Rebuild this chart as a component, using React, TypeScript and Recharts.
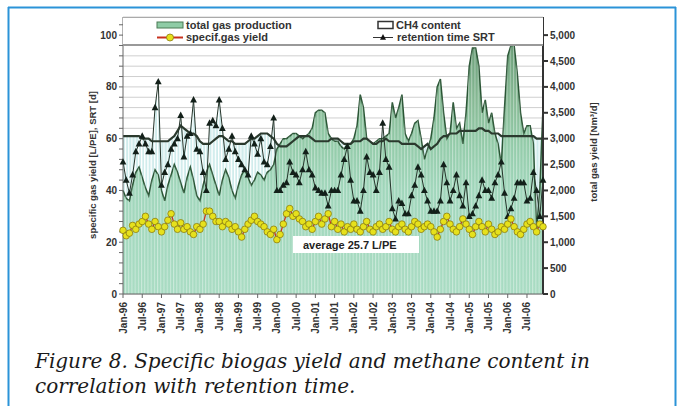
import React from "react";
import {
  ComposedChart,
  Area,
  Line,
  XAxis,
  YAxis,
  CartesianGrid,
} from "recharts";

// monthly values Jan-96 .. Dec-06
const years = ["96", "97", "98", "99", "00", "01", "02", "03", "04", "05", "06"];
const monthNames = ["Jan", "Feb", "Mar", "Apr", "May", "Jun", "Jul", "Aug", "Sep", "Oct", "Nov", "Dec"];

// total gas production [Nm3/d]
const gasProduction = [
  2000, 1850, 1800, 2100, 2350, 2450, 2250, 2050, 1900, 2200, 2400, 2300,
  2000, 1800, 2100, 2300, 2500, 2350, 2150, 1950, 2250, 2450, 2200, 1900,
  1800, 2100, 2350, 2500, 2300, 2100, 1900, 2200, 2400, 2250, 2000, 1850,
  2100, 2300, 2400, 2250, 2100, 2200, 2350, 2300, 2200, 2350, 2400, 2500,
  2800, 2900, 3000, 3000, 3050, 3100, 3100, 3050, 3000, 3050, 3100, 3200,
  3500, 3550, 3550, 3500, 3100, 3000, 2950, 2950, 2850, 2800, 2900, 2900,
  3000, 3250, 3850, 3600, 3000, 2950, 2900, 2950, 3000, 3000, 3050, 3100,
  3700, 3400, 3600, 3850, 3100, 2950, 3100, 3300, 3350, 3000, 2600, 2800,
  3000, 3400, 4000, 4150, 3500, 3000, 3100, 3700, 3200, 3300, 2900, 3500,
  4400, 4750, 4750, 4400, 3500, 3750, 3300, 3500, 3100, 2900, 2500, 3600,
  4600, 4800, 4800, 4250, 3500, 3100, 3250, 3250, 2900, 1250, 2000, 3600,
];

// CH4 content [%]
const ch4Content = [
  61, 61, 61, 61, 61, 61, 60, 60, 60, 59, 59, 59,
  59, 59, 59, 60, 61, 63, 65, 64, 63, 62, 62, 61,
  59, 58, 58, 58, 59, 60, 61, 61, 60, 59, 59, 58,
  58, 58, 58, 59, 60, 60, 61, 62, 62, 62, 61, 60,
  58, 57, 57, 57, 58, 59, 60, 61, 61, 61, 61, 60,
  59, 59, 59, 59, 59, 60, 60, 60, 59, 58, 58, 58,
  59, 59, 59, 60, 60, 59, 58, 58, 59, 59, 60, 59,
  59, 59, 59, 58, 58, 58, 58, 58, 57, 56, 57, 58,
  56, 57, 58, 60, 61, 61, 62, 62, 62, 63, 63, 63,
  63, 63, 63, 64, 64, 63, 63, 62, 62, 62, 61, 61,
  61, 61, 61, 61, 61, 61, 61, 61, 61, 60, 60, 60,
];

// retention time SRT [d]
const retentionTime = [
  51, 44, 39, 46, 55, 58, 61, 58, 55, 55, 72, 82,
  42, 47, 50, 56, 58, 60, 69, 53, 61, 62, 75, 56,
  55, 47, 40, 66, 67, 65, 75, 64, 52, 56, 61, 55,
  52, 50, 48, 46, 61, 58, 54, 60, 51, 50, 57, 68,
  40, 40, 42, 43, 51, 47, 46, 43, 48, 55, 48, 46,
  41, 40, 39, 39, 34, 40, 40, 40, 46, 52, 57, 44,
  36, 36, 32, 40, 53, 47, 46, 40, 47, 66, 52, 49,
  33, 29, 36, 35, 31, 31, 38, 42, 49, 46, 40, 36,
  32, 32, 32, 36, 50, 43, 36, 40, 46, 38, 34, 43,
  30, 31, 34, 38, 44, 40, 40, 37, 43, 46, 51, 39,
  30, 33, 37, 43, 43, 43, 36, 37, 47, 40, 30, 44,
];

// specific gas yield [L/PE]
const specificYield = [
  24.6, 22.5, 23.5, 26.5, 25, 27, 28, 30, 27, 25, 28, 26,
  24, 26, 28.5, 31, 27, 25, 27.5, 25, 26, 24, 23, 26,
  25, 27, 32, 32, 30, 28, 28, 26, 28, 27, 25, 26,
  24, 22, 25, 27, 28.5, 30, 28, 27, 26, 24, 23, 25,
  21, 23, 27, 31, 33, 30, 31, 29, 28, 26, 27, 25,
  28, 30, 27, 29, 31, 26, 28, 25, 27, 24, 26, 25,
  27, 25, 24, 26, 28, 25, 24, 26, 27, 25, 26, 28,
  25, 24, 26, 27, 25, 24, 26, 28, 27, 25, 26, 27,
  26, 24, 22, 25, 28, 30, 27, 25, 24, 26, 29, 27,
  25, 23, 26, 28, 26, 24, 27, 25, 23, 24, 26, 25,
  27, 29, 26, 24, 23, 25, 27, 28, 26, 24, 27, 26,
];

const leftTicks = [0, 4, 8, 12, 16, 20, 24, 28, 32, 36, 40, 44, 48, 52, 56, 60, 64, 68, 72, 76, 80, 84, 88, 92, 96, 100, 104];
const rightTicks = [0, 500, 1000, 1500, 2000, 2500, 3000, 3500, 4000, 4500, 5000];

const months = years.flatMap((y) => monthNames.map((m) => `${m}-${y}`));
const data = months.map((month, i) => ({
  month,
  gas: gasProduction[i],
  ch4: ch4Content[i],
  srt: retentionTime[i],
  yield: specificYield[i],
}));

const font = "'Liberation Sans', Arial, sans-serif";

const XTick = (props: any) => {
  const { x, y, payload } = props;
  return (
    <text
      x={x}
      y={y}
      transform={`rotate(-90, ${x}, ${y})`}
      textAnchor="end"
      dominantBaseline="central"
      fontSize={10}
      fontWeight="bold"
      fontFamily={font}
      fill="#333"
    >
      {payload.value}
    </text>
  );
};

const Triangle = (props: any) => {
  const { cx, cy, index } = props;
  if (cx == null || cy == null) return <g key={index} />;
  return (
    <polygon
      key={index}
      points={`${cx},${cy - 3.8} ${cx - 3.4},${cy + 2.6} ${cx + 3.4},${cy + 2.6}`}
      fill="#13201a"
    />
  );
};

export default function App() {
  return (
    <div style={{ position: "absolute", left: 0, top: 0, width: 682, height: 406, background: "#fff" }}>
      <ComposedChart
        width={682}
        height={350}
        data={data}
        margin={{ top: 17, right: 79, bottom: 10, left: 63 }}
        style={{ position: "absolute", left: 0, top: 0 }}
      >
        <defs>
          <linearGradient id="gasFill" x1="0" y1="0" x2="0" y2="1">
            <stop offset="0%" stopColor="#6c9f79" />
            <stop offset="22%" stopColor="#86b994" />
            <stop offset="40%" stopColor="#93cba9" />
            <stop offset="58%" stopColor="#a0d6bb" />
            <stop offset="100%" stopColor="#a9dcc3" />
          </linearGradient>
          <pattern id="blueStripes" patternUnits="userSpaceOnUse" width={3.206} height={10}>
            <rect x={0} y={0} width={1} height={10} fill="#ffffff" />
          </pattern>
          <pattern id="greenStripes" patternUnits="userSpaceOnUse" width={3.206} height={10}>
            <rect x={0} y={0} width={1} height={10} fill="#ffffff" fillOpacity={0.4} />
          </pattern>
        </defs>
        <CartesianGrid yAxisId="left" vertical={false} stroke="#cfcfcf" />
        <XAxis
          dataKey="month"
          scale="point"
          interval={5}
          tick={<XTick />}
          tickSize={4}
          tickMargin={4}
          height={46}
          stroke="#666"
        />
        <YAxis
          yAxisId="left"
          domain={[0, 107]}
          ticks={leftTicks}
          interval={0}
          tickFormatter={(v: number) => (v % 20 === 0 ? String(v) : "")}
          width={60}
          tickSize={4}
          stroke="#666"
          tick={{ fontSize: 10, fontWeight: "bold", fill: "#333", fontFamily: font }}
        />
        <YAxis
          yAxisId="right"
          orientation="right"
          domain={[0, 5350]}
          ticks={rightTicks}
          interval={0}
          tickFormatter={(v: number) => v.toLocaleString("en-US")}
          width={60}
          tickSize={5}
          stroke="#333"
          strokeWidth={2}
          tick={{ fontSize: 10, fontWeight: "bold", fill: "#333", fontFamily: font }}
        />
        <Area yAxisId="left" dataKey="ch4" type="linear" fill="#d0ecec" fillOpacity={1} stroke="none" isAnimationActive={false} />
        <Area yAxisId="left" dataKey="srt" type="linear" fill="#d0ecec" fillOpacity={1} stroke="none" isAnimationActive={false} />
        <Area yAxisId="left" dataKey="ch4" type="linear" fill="url(#blueStripes)" fillOpacity={1} stroke="none" isAnimationActive={false} />
        <Area yAxisId="left" dataKey="srt" type="linear" fill="url(#blueStripes)" fillOpacity={1} stroke="none" isAnimationActive={false} />
        <Area yAxisId="right" dataKey="gas" type="linear" fill="url(#gasFill)" fillOpacity={1} stroke="#2a5535" strokeWidth={1.5} isAnimationActive={false} />
        <Area yAxisId="right" dataKey="gas" type="linear" fill="url(#greenStripes)" fillOpacity={1} stroke="none" isAnimationActive={false} />
        <Line yAxisId="left" dataKey="ch4" type="linear" stroke="#2b3a2e" strokeWidth={2.2} dot={false} isAnimationActive={false} />
        <Line yAxisId="left" dataKey="srt" type="linear" stroke="#26352b" strokeWidth={1} dot={<Triangle />} isAnimationActive={false} />
        <Line
          yAxisId="left"
          dataKey="yield"
          type="linear"
          stroke="#c8321e"
          strokeWidth={1.3}
          dot={{ r: 3.3, fill: "#e6e11c", stroke: "#8c7c10", strokeWidth: 0.8 }}
          isAnimationActive={false}
        />
      </ComposedChart>

      <svg width={682} height={406} style={{ position: "absolute", left: 0, top: 0, pointerEvents: "none" }}>
        {/* frame */}
        <line x1={8} y1={7.5} x2={676} y2={7.5} stroke="#2b93d8" strokeWidth={2} />
        <line x1={8.5} y1={7} x2={8.5} y2={406} stroke="#2b93d8" strokeWidth={2} />
        <line x1={675.5} y1={7} x2={675.5} y2={406} stroke="#2b93d8" strokeWidth={2} />

        {/* legend */}
        <rect x={123} y={17} width={420} height={28} fill="#fff" />
        <line x1={123} y1={17.5} x2={543} y2={17.5} stroke="#aaa" strokeWidth={1} />
        <line x1={123} y1={45} x2={543} y2={45} stroke="#999" strokeWidth={2} />
        <rect x={157} y={22} width={26} height={6} fill="#8fcca6" stroke="#4a7a55" strokeWidth={1} />
        <text x={186} y={29} fontSize={11} fontWeight="bold" fontFamily={font} fill="#333">total gas production</text>
        <line x1={157} y1={37.5} x2={183} y2={37.5} stroke="#c8321e" strokeWidth={2} />
        <circle cx={170} cy={37.5} r={3.5} fill="#e6e11c" stroke="#8c7c10" strokeWidth={0.8} />
        <text x={186} y={41} fontSize={11} fontWeight="bold" fontFamily={font} fill="#333">specif.gas yield</text>
        <rect x={378} y={21.5} width={15} height={7} fill="#fff" stroke="#333" strokeWidth={1.5} />
        <text x={396} y={29} fontSize={11} fontWeight="bold" fontFamily={font} fill="#333">CH4 content</text>
        <line x1={373} y1={37.5} x2={393} y2={37.5} stroke="#333" strokeWidth={1} />
        <polygon points="383,34 380,39.8 386,39.8" fill="#111" />
        <text x={397} y={41} fontSize={11} fontWeight="bold" fontFamily={font} fill="#333">retention time SRT</text>

        {/* average box */}
        <rect x={293} y={236} width={126} height={17} fill="#fff" />
        <text x={303} y={248.5} fontSize={11} fontWeight="bold" fontFamily={font} fill="#222">average 25.7 L/PE</text>

        {/* axis titles */}
        <text x={92} y={165} transform="rotate(-90, 92, 165)" textAnchor="middle" dominantBaseline="central" fontSize={9.5} fontWeight="bold" fontFamily={font} fill="#333">
          specific gas yield [L/PE], SRT [d]
        </text>
        <text x={593} y={152} transform="rotate(-90, 593, 152)" textAnchor="middle" dominantBaseline="central" fontSize={9.5} fontWeight="bold" fontFamily={font} fill="#333">
          total gas yield [Nm³/d]
        </text>

        {/* caption */}
        <text x={35} y={368} fontSize={20} fontStyle="italic" fontFamily="'DejaVu Serif', serif" fill="#1a1a1a">
          Figure 8. Specific biogas yield and methane content in
        </text>
        <text x={35} y={393} fontSize={20} fontStyle="italic" fontFamily="'DejaVu Serif', serif" fill="#1a1a1a">
          correlation with retention time.
        </text>
      </svg>
    </div>
  );
}
